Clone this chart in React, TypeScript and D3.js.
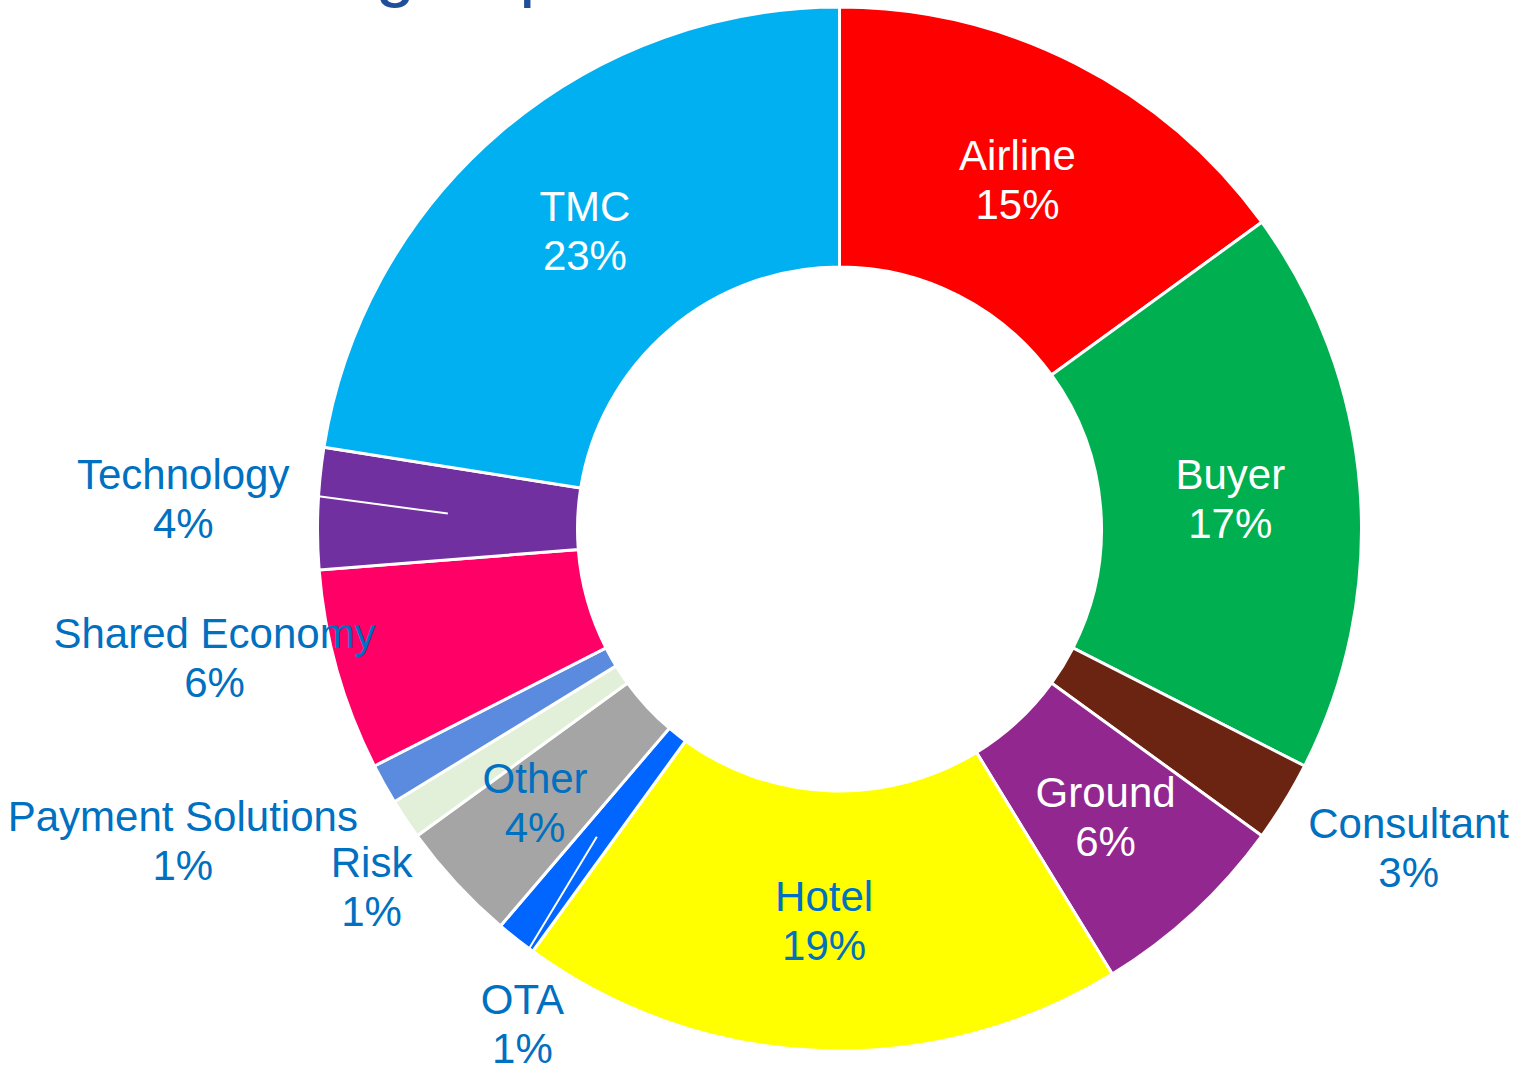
import React from "react";
import * as d3 from "d3";

const categories = ["Airline", "Buyer", "Consultant", "Ground", "Hotel", "OTA", "Other", "Risk", "Payment Solutions", "Shared Economy", "Technology", "TMC"];
const counts = [12, 14, 2, 5, 15, 1, 3, 1, 1, 5, 3, 18];
const percentLabels = ["15%", "17%", "3%", "6%", "19%", "1%", "4%", "1%", "1%", "6%", "4%", "23%"];
const colors = ["#FF0000", "#00B050", "#6A2411", "#92278F", "#FFFF00", "#0066FF", "#A5A5A5", "#E2F0D9", "#5B8BDF", "#FF0066", "#7030A0", "#00B0F0"];
const labelColors = ["#FFFFFF", "#FFFFFF", "#0070C0", "#FFFFFF", "#0070C0", "#0070C0", "#0070C0", "#0070C0", "#0070C0", "#0070C0", "#0070C0", "#FFFFFF"];
const titleText = "Attendee groups";

// layout config (label placement for outside / moved labels): [angleDeg from north, radius]
const labelPlacement: Record<string, [number, number]> = {
  Consultant: [119.2, 652],
  OTA: [212.7, 587],
  Other: [228.1, 409],
  Risk: [232.6, 589],
  "Payment Solutions": [244.6, 727],
  "Shared Economy": [258.4, 638],
  Technology: [272.7, 657],
};
// leader lines: [end angle offset from mid angle (deg), end radius]
const leaderPlacement: Record<string, [number, number]> = {
  Technology: [1.35, 522],
  OTA: [-1.75, 521],
};

const W = 1513;
const H = 1065;
const cx = 839.5;
const cy = 529;
const rOuter = 522;
const rInner = 262;
const fontSize = 42;
const lineGap = 49;
const FONT = "Arial, 'Liberation Sans', sans-serif";

export default function App() {
  const pie = d3.pie<number>().sort(null).value((d) => d);
  const arcs = pie(counts);
  const arcGen = d3.arc<d3.PieArcDatum<number>>().innerRadius(rInner).outerRadius(rOuter);
  const toRad = (deg: number) => (deg * Math.PI) / 180;
  const polar = (angRad: number, r: number): [number, number] => [Math.sin(angRad) * r, -Math.cos(angRad) * r];
  const labelR = (rInner + rOuter) / 2;

  return (
    <svg width={W} height={H} style={{ position: "absolute", left: 0, top: 0, display: "block", background: "#fff" }}>
      <text x={67} y={-7} fontFamily={FONT} fontSize={72} fill="#1F4E9A">{titleText}</text>
      <g transform={`translate(${cx},${cy})`}>
        {arcs.map((a, i) => (
          <path key={categories[i]} d={arcGen(a) || ""} fill={colors[i]} stroke="#fff" strokeWidth={3} strokeLinejoin="miter" />
        ))}
        {arcs.map((a, i) => {
          const lp = leaderPlacement[categories[i]];
          if (!lp) return null;
          const mid = (a.startAngle + a.endAngle) / 2;
          const [x1, y1] = polar(mid, labelR);
          const [x2, y2] = polar(mid + toRad(lp[0]), lp[1]);
          return <line key={"l" + i} x1={x1} y1={y1} x2={x2} y2={y2} stroke="#fff" strokeWidth={2} />;
        })}
        {arcs.map((a, i) => {
          const name = categories[i];
          const place = labelPlacement[name];
          const mid = (a.startAngle + a.endAngle) / 2;
          const [x, y] = place ? polar(toRad(place[0]), place[1]) : polar(mid, labelR);
          // vertically center the two-line block (cap height ~0.716em)
          const capH = fontSize * 0.716;
          const blockH = lineGap + capH;
          const y1 = y - blockH / 2 + capH;
          return (
            <text key={"t" + i} textAnchor="middle" fontFamily={FONT} fontSize={fontSize} fill={labelColors[i]}>
              <tspan x={x} y={y1}>{name}</tspan>
              <tspan x={x} y={y1 + lineGap}>{percentLabels[i]}</tspan>
            </text>
          );
        })}
      </g>
    </svg>
  );
}
